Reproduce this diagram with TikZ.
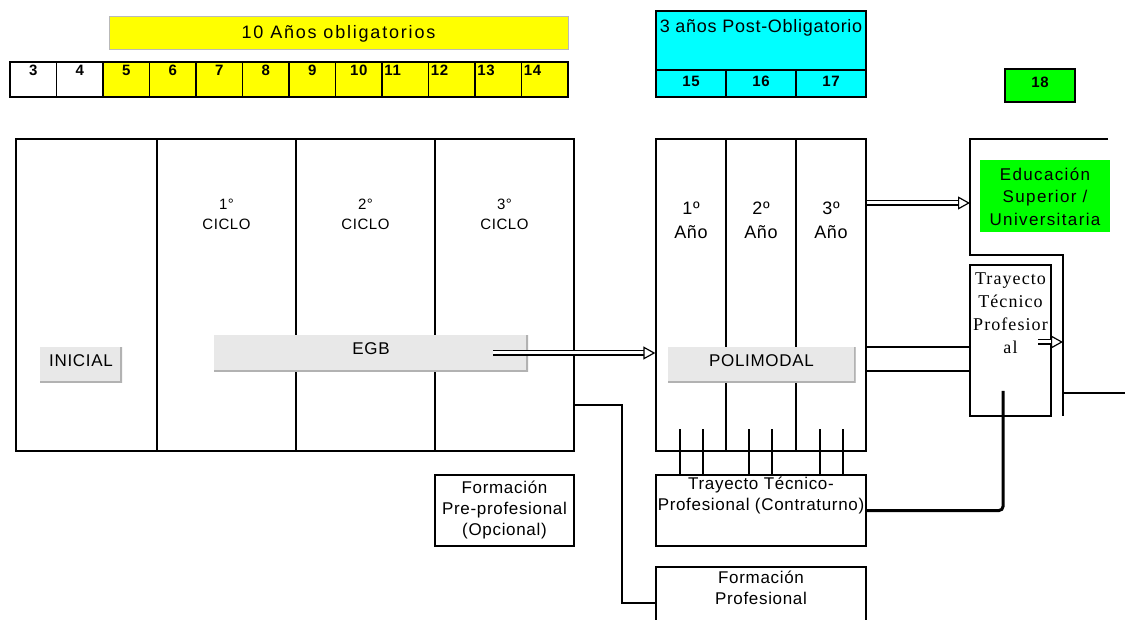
\documentclass[tikz,border=0pt]{standalone}
\usepackage{fontspec}
\setmainfont{Liberation Sans}[LetterSpace=4]
\newfontfamily\trayfont{Liberation Serif}[LetterSpace=6]
\usetikzlibrary{arrows.meta,positioning}
\definecolor{obligyellow}{RGB}{255,255,0}
\definecolor{postcyan}{RGB}{0,255,255}
\definecolor{supgreen}{RGB}{0,255,0}
\newcommand{\fsz}[2]{\fontsize{#1}{#2}\selectfont}
\tikzset{
  colbox/.style={draw=black, line width=1.3pt, inner sep=0pt, minimum height=312pt},
  yearcell/.style={draw=black, line width=1.6pt, inner sep=0pt},
  yeartxt/.style={font=\fsz{15}{17}\bfseries, inner sep=0pt},
  stageband/.style={fill=gray!18, inner sep=0pt, text depth=9pt,
    path picture={\draw[gray!60, line width=3.5pt]
      (path picture bounding box.north east) -- (path picture bounding box.south east)
      -- (path picture bounding box.south west);},
    font=\fsz{17}{20}},
  infobox/.style={draw=black, line width=1.3pt, inner sep=0pt, align=center,
    font=\fsz{17}{21}},
  boxtxt/.style={inner sep=0pt, align=center, font=\fsz{17}{21}},
  hollow/.style={double, double distance=3pt, line width=1.2pt,
    -{Triangle[open, length=12pt, width=13pt, line width=1.2pt, fill=white]}},
  link/.style={line width=1.3pt},
  heavylink/.style={line width=3pt, rounded corners=4pt},
}

\begin{document}
\begin{tikzpicture}[x=1pt, y=-1pt]
  \useasboundingbox (0,0) rectangle (1125,620);

  % Top row — compulsory years
  \node[draw=gray!55, line width=1pt, fill=obligyellow, minimum width=459pt,
        minimum height=33pt, font=\fsz{18}{20}\addfontfeatures{LetterSpace=10}]
        (oblig) at (338.5,33.5) {10 Años obligatorios};
  \foreach \n in {3,...,14} {
    \ifnum\n<5 \def\cellcol{white}\else\def\cellcol{obligyellow}\fi
    \node[yearcell, fill=\cellcol, minimum width=46.5pt, minimum height=35pt]
      (y\n) at ({33.25+46.5*(\n-3)},79.5) {};
  }
  \foreach \n in {3,...,10}
    \node[yeartxt, below=4pt of y\n.north] {\n};
  \foreach \n in {11,...,14}
    \node[yeartxt, anchor=north west] at ([xshift=3pt,yshift=-4pt]y\n.north west) {\n};

  % Post-compulsory years
  \node[yearcell, fill=postcyan, minimum width=210pt, minimum height=59pt] (post) at (761,40.5) {};
  \node[font=\fsz{18}{20}, inner sep=0pt, below=9pt of post.north] (posttxt) {3 años Post-Obligatorio};
  \foreach \n [count=\idx from 0] in {15,16,17} {
    \node[yearcell, fill=postcyan, minimum width=70pt, minimum height=27pt]
      (y\n) at ({691+70*\idx},83.5) {};
    \node[yeartxt, below=7pt of y\n.north] {\n};
  }
  \node[yearcell, fill=supgreen, minimum width=70pt, minimum height=33pt] (y18) at (1040,85.5) {};
  \node[yeartxt, below=9pt of y18.north] {18};

  % Inicial + EGB block
  \node[colbox, minimum width=141pt] (ini)  at (86.5,295) {};
  \node[colbox, minimum width=139pt] (cic1) at (226.5,295) {};
  \node[colbox, minimum width=139pt] (cic2) at (365.5,295) {};
  \node[colbox, minimum width=139pt] (cic3) at (504.5,295) {};
  \foreach \c/\idx in {cic1/1,cic2/2,cic3/3}
    \node[font=\fsz{15}{20}, align=center, inner sep=0pt] at (\c.north |- 0,214) {{\idx}°\\CICLO};
  \node[stageband, minimum width=82pt, minimum height=36pt] (inicial) at (81,365) {INICIAL};
  \node[stageband, minimum width=314pt, minimum height=37pt] (egb) at (371,353.5) {EGB};

  % Bottom boxes
  \node[infobox, minimum width=139pt, minimum height=71pt] (preprof) at (504.5,510.5)
    {Formación\\Pre-profesional\\(Opcional)};
  \node[infobox, minimum width=210pt, minimum height=71pt] (tray) at (761,510.5) {};
  \node[boxtxt, below=2pt of tray.north] (traytxt) {Trayecto Técnico-\\Profesional (Contraturno)};
  \node[infobox, minimum width=210pt, minimum height=80pt] (fprof) at (761,607) {};
  \node[boxtxt, below=4pt of fprof.north] (fproftxt) {Formación\\Profesional};

  % Polimodal block
  \foreach \c [count=\idx] in {pol1,pol2,pol3} {
    \node[colbox, minimum width=70pt] (\c) at ({621+70*\idx},295) {};
    \node[font=\fsz{18}{24}, align=center, inner sep=0pt] at (\c.north |- 0,220) {{\idx}º\\Año};
  }
  \node[stageband, minimum width=188pt, minimum height=36pt] (polimodal) at (761.5,365) {POLIMODAL};
  \foreach \x in {680,703,749,772,820,843}
    \draw[link] (\x,429) -- (\x,429 |- tray.north);

  % Higher education
  \node[fill=supgreen, minimum width=130pt, minimum height=72pt, inner sep=0pt, align=center,
        font=\fsz{17}{22.5}\addfontfeatures{LetterSpace=8}] (sup) at (1045,196.5)
    {Educación\\Superior /\\Universitaria};
  \coordinate (supne) at (1108,139);
  \coordinate (supnw) at (970,139);
  \coordinate (supsw) at (970,255);
  \coordinate (supse) at (1063,255);
  \coordinate (supend) at (1063,416);
  \coordinate (exitr) at (1125,393);
  \draw[link] (supne) -- (supnw) -- (supsw) -- (supse) -- (supend);
  \draw[link] (supse |- exitr) -- (exitr);
  \node[infobox, minimum width=81pt, minimum height=151pt] (trayv) at (1010.5,340.5) {};
  \node[inner sep=0pt, align=center, font=\trayfont\fsz{18}{23}, below=8pt of trayv.north]
    (trayvtxt) {Trayecto\\Técnico\\Profesior\\al};

  % Connectors
  \coordinate (egbtail) at (493,353);
  \draw[hollow] (egbtail) -- (egbtail -| pol1.west);
  \coordinate (poltail) at (pol3.east |- 0,203);
  \draw[hollow] (poltail) -- (poltail -| supnw);
  \draw[link] (pol3.east |- 0,347) -- (trayv.west |- 0,347);
  \draw[link] (pol3.east |- 0,371) -- (trayv.west |- 0,371);
  \draw[link] (cic3.east |- 0,405) -| (622,603) -- (fprof.west |- 0,603);
  \coordinate (heavyend) at (1003,391);
  \draw[heavylink] (tray.east) -| (heavyend);
  \coordinate (trayvtail) at (1038,342);
  \draw[hollow] (trayvtail) -- (trayvtail -| supend);
\end{tikzpicture}
\end{document}
